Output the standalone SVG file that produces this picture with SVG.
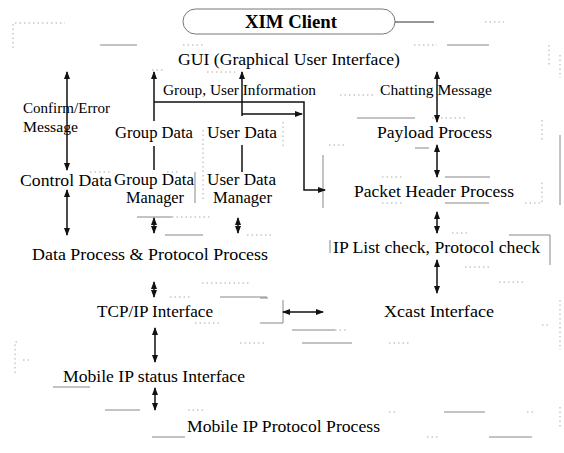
<svg xmlns="http://www.w3.org/2000/svg" width="564" height="453" viewBox="0 0 564 453">
<style>
text{font-family:"Liberation Serif","Times New Roman",serif;fill:#000}
.t{font-size:16.5px}
.s{font-size:15px}
.c{stroke:#111;stroke-width:1.5;fill:none}
.f{stroke:#888;stroke-width:1;fill:none}
.d{stroke:#aaa;stroke-width:1;fill:none;stroke-dasharray:1.5 3}
</style>
<defs>
<marker id="ah" markerWidth="8" markerHeight="8" refX="7" refY="4" orient="auto-start-reverse" markerUnits="userSpaceOnUse">
<path d="M0,1 L8,4 L0,7 Z" fill="#111"/>
</marker>
</defs>
<rect width="564" height="453" fill="#fff"/>

<g id="residue">
<path class="d" d="M13,48 V23 H65"/>
<path class="f" d="M100,45 H137"/>
<path class="d" d="M183,45 H203 M152,70 H165 M207,72 H235"/>
<path class="d" d="M485,22 H504 M414,45 H437 M549,45 V65 M560,55 V78"/>
<path class="f" d="M447,45 H489"/>
<path class="d" d="M340,95 H374 M432,118 H467 M329,145 H347 M542,120 V140"/>
<path class="f" d="M357,118 H415 M415,148 H429 M560,135 V205"/>
<path class="d" d="M90,172 H112 M167,172 H180 M203,130 V200 M283,122 V147"/>
<path class="f" d="M195,172 V203 M137,217 H172 M165,235 H203 M323,155 V208"/>
<path class="d" d="M172,217 H210 M247,235 H273 M202,283 H250 M170,297 H190"/>
<path class="f" d="M220,297 H267"/>
<path class="d" d="M382,177 H402 M382,203 H402 M525,203 H542 V180 M452,233 H469 M465,267 H489 M499,282 H525"/>
<path class="f" d="M445,177 H490 M445,203 H489 M509,235 H550 V265 M330,240 V253"/>
<path class="d" d="M195,323 H222 M240,343 H267 M15,373 V342 H20 M23,360 H30 M188,410 H203"/>
<path class="f" d="M260,323 H283 V300 M260,298 H268 M53,387 H90 M105,410 H140 M152,437 H185"/>
<path class="f" d="M292,330 H335 M302,343 H352 M444,412 H485 M489,437 H532"/>
<path class="d" d="M335,330 H347 M389,343 H409 M542,325 H549 M560,300 V350 M389,412 H397 M527,412 H535 M427,437 H439 M560,407 V427"/>
</g>

<g id="xim-client">
<rect x="183" y="9" width="212" height="25" rx="12.5" fill="none" stroke="#777" stroke-width="1"/>
<path d="M395,22 H434" stroke="#333" stroke-width="1"/>
<text x="245" y="28" font-size="19" font-weight="bold" textLength="92" lengthAdjust="spacingAndGlyphs">XIM Client</text>
</g>

<g id="connectors">
<path class="c" d="M67,72 V170" marker-start="url(#ah)" marker-end="url(#ah)"/>
<path class="c" d="M67,190 V235" marker-start="url(#ah)" marker-end="url(#ah)"/>
<path class="c" d="M154,121 V72" marker-end="url(#ah)"/>
<path class="c" d="M154,146 V170"/>
<path class="c" d="M242,116 V72" marker-end="url(#ah)"/>
<path class="c" d="M242,145 V172"/>
<path class="c" d="M154,102 H304 V190 H325" marker-end="url(#ah)"/>
<path class="c" d="M242,114 H302" marker-end="url(#ah)"/>
<path class="c" d="M437,72 V122" marker-start="url(#ah)" marker-end="url(#ah)"/>
<path class="c" d="M437,145 V177" marker-start="url(#ah)" marker-end="url(#ah)"/>
<path class="c" d="M437,212 V233" marker-start="url(#ah)" marker-end="url(#ah)"/>
<path class="c" d="M437,260 V293" marker-start="url(#ah)" marker-end="url(#ah)"/>
<path class="c" d="M154,218 V233" marker-start="url(#ah)" marker-end="url(#ah)"/>
<path class="c" d="M238,218 V233" marker-start="url(#ah)" marker-end="url(#ah)"/>
<path class="c" d="M154,282 V297" marker-start="url(#ah)" marker-end="url(#ah)"/>
<path class="c" d="M155,328 V362" marker-start="url(#ah)" marker-end="url(#ah)"/>
<path class="c" d="M155,388 V410" marker-start="url(#ah)" marker-end="url(#ah)"/>
<path class="c" d="M283,312 H323" marker-start="url(#ah)" marker-end="url(#ah)"/>
</g>

<g id="gui"><text class="t" x="178" y="65" textLength="222" lengthAdjust="spacingAndGlyphs">GUI (Graphical User Interface)</text></g>
<g id="label-group-user-info"><text class="s" x="163" y="95" textLength="153" lengthAdjust="spacingAndGlyphs">Group, User Information</text></g>
<g id="label-chatting"><text class="s" x="380" y="95" textLength="112" lengthAdjust="spacingAndGlyphs">Chatting Message</text></g>
<g id="label-confirm">
<text class="s" x="23" y="113" textLength="87" lengthAdjust="spacingAndGlyphs">Confirm/Error</text>
<text class="s" x="23" y="132" textLength="55" lengthAdjust="spacingAndGlyphs">Message</text>
</g>
<g id="group-data"><text class="t" x="115" y="138" textLength="78" lengthAdjust="spacingAndGlyphs">Group Data</text></g>
<g id="user-data"><text class="t" x="207" y="138" textLength="70" lengthAdjust="spacingAndGlyphs">User Data</text></g>
<g id="payload-process"><text class="t" x="377" y="138" textLength="115" lengthAdjust="spacingAndGlyphs">Payload Process</text></g>
<g id="control-data"><text class="t" x="20" y="186" textLength="92" lengthAdjust="spacingAndGlyphs">Control Data</text></g>
<g id="group-data-manager">
<text class="t" x="114" y="185" textLength="80" lengthAdjust="spacingAndGlyphs">Group Data</text>
<text class="t" x="126" y="203" textLength="58" lengthAdjust="spacingAndGlyphs">Manager</text>
</g>
<g id="user-data-manager">
<text class="t" x="207" y="185" textLength="69" lengthAdjust="spacingAndGlyphs">User Data</text>
<text class="t" x="213" y="203" textLength="59" lengthAdjust="spacingAndGlyphs">Manager</text>
</g>
<g id="packet-header-process"><text class="t" x="354" y="197" textLength="160" lengthAdjust="spacingAndGlyphs">Packet Header Process</text></g>
<g id="ip-list-check"><text class="t" x="333" y="253" textLength="207" lengthAdjust="spacingAndGlyphs">IP List check, Protocol check</text></g>
<g id="data-protocol-process"><text class="t" x="32" y="260" textLength="236" lengthAdjust="spacingAndGlyphs">Data Process &amp; Protocol Process</text></g>
<g id="tcp-ip-interface"><text class="t" x="97" y="317" textLength="116" lengthAdjust="spacingAndGlyphs">TCP/IP Interface</text></g>
<g id="xcast-interface"><text class="t" x="384" y="317" textLength="110" lengthAdjust="spacingAndGlyphs">Xcast  Interface</text></g>
<g id="mobile-ip-status"><text class="t" x="63" y="382" textLength="182" lengthAdjust="spacingAndGlyphs">Mobile IP status Interface</text></g>
<g id="mobile-ip-protocol"><text class="t" x="187" y="432" textLength="193" lengthAdjust="spacingAndGlyphs">Mobile IP Protocol Process</text></g>
</svg>
